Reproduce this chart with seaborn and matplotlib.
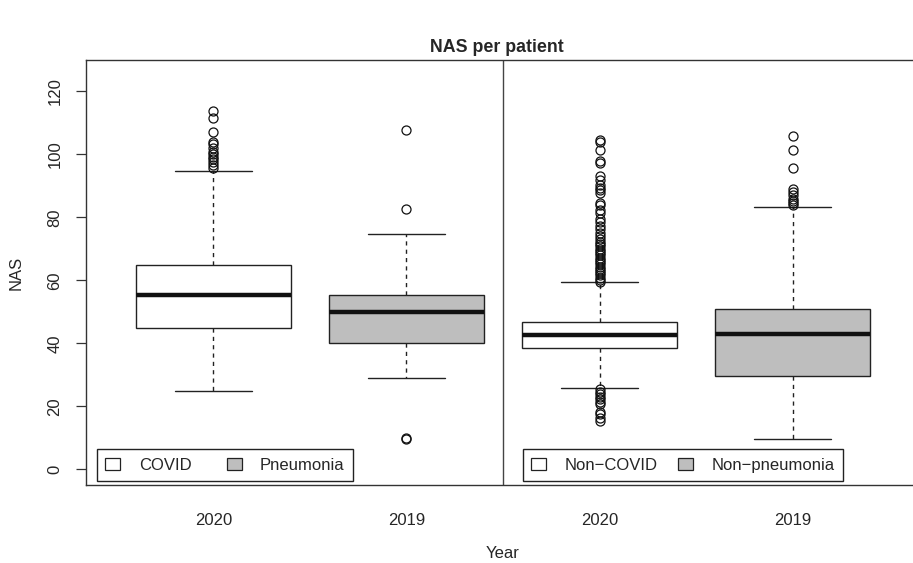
import matplotlib
matplotlib.use("Agg")
import matplotlib.pyplot as plt
import seaborn as sns
from matplotlib.patches import Patch

# ---- data ----
groups = ["COVID", "Pneumonia", "Non\u2212COVID", "Non\u2212pneumonia"]
year_labels = ["2020", "2019", "2020", "2019"]
q1 = [44.8, 40.2, 38.5, 29.5]
median = [55.2, 50.0, 42.6, 42.9]
q3 = [64.8, 55.5, 46.8, 50.9]
whisker_lo = [24.9, 29.1, 25.9, 9.6]
whisker_hi = [94.6, 74.8, 59.4, 83.2]
outliers_covid = [113.9, 111.6, 107.2, 103.8, 103.2, 102.0, 100.7, 100.0, 99.2,
                  98.4, 97.6, 96.5, 95.6]
outliers_pneumonia = [107.8, 82.6, 9.9, 9.6]
outliers_noncovid = [104.6, 103.8, 101.3, 98.0, 97.2, 93.3, 92.0, 90.3, 89.3, 88.6,
                     87.8, 84.7, 84.0, 82.5, 81.4, 79.6, 78.4, 77.3, 76.2, 75.1,
                     74.0, 73.0, 72.2, 71.5, 70.8, 70.0, 69.3, 68.6, 67.9, 67.2,
                     66.5, 65.8, 65.1, 64.4, 63.7, 63.0, 62.3, 61.6, 60.9, 60.2, 59.6,
                     25.4, 24.6, 23.8, 23.0, 22.2, 21.4, 20.6, 18.2, 17.4, 16.4, 15.4]
outliers_nonpneumonia = [106.0, 101.3, 95.7, 89.0, 88.0, 87.0, 86.0, 85.2, 84.5, 83.8]
fills = ["white", "#BEBEBE", "white", "#BEBEBE"]
yticks = [0, 20, 40, 60, 80, 100, 120]

sns.set_style("white")
plt.rcParams["font.family"] = ["Liberation Sans", "DejaVu Sans"]

fig = plt.figure(figsize=(9.13, 5.63), dpi=100)
ax = fig.add_axes([86 / 913, 78 / 563, 834 / 913, 425 / 563])

all_out = [outliers_covid, outliers_pneumonia, outliers_noncovid, outliers_nonpneumonia]
stats = []
for i in range(4):
    stats.append(dict(med=median[i], q1=q1[i], q3=q3[i], whislo=whisker_lo[i],
                      whishi=whisker_hi[i], fliers=all_out[i], label=year_labels[i]))

positions = [1, 2, 3, 4]
bp = ax.bxp(stats, positions=positions, widths=0.8, patch_artist=True,
            boxprops=dict(edgecolor="#222222", linewidth=1.0),
            medianprops=dict(color="#111111", linewidth=3.2, solid_capstyle="butt"),
            whiskerprops=dict(color="#222222", linewidth=1.0, linestyle=(0, (3, 3))),
            capprops=dict(color="#222222", linewidth=1.0),
            flierprops=dict(marker="o", markerfacecolor="none", markeredgecolor="#111111",
                            markersize=6.5, markeredgewidth=0.9))
for patch, fc in zip(bp["boxes"], fills):
    patch.set_facecolor(fc)

ax.axvline(2.5, color="#444444", linewidth=1.0)

ax.set_xlim(0.34, 4.66)
ax.set_ylim(-5, 130)
ax.set_yticks(yticks)
ax.set_yticklabels([str(v) for v in yticks], rotation=90, va="center")
ax.set_xticks(positions)
ax.set_xticklabels(year_labels)
ax.tick_params(axis="y", direction="out", length=7, width=0.9, color="#333333",
               pad=10, labelsize=12, left=True)
ax.tick_params(axis="x", length=0, pad=20, labelsize=12)
for s in ["left", "bottom", "top"]:
    ax.spines[s].set_color("#333333")
    ax.spines[s].set_linewidth(1.0)
ax.spines["right"].set_visible(False)

ax.set_ylabel("NAS", fontsize=12, labelpad=17)
ax.set_xlabel("Year", fontsize=12, labelpad=13)
fig.text(0.5445, 1 - 47 / 563, "NAS per patient", ha="center", va="center",
         fontsize=12.8, fontweight="bold")

def make_legend(labels, colors, x0, w):
    handles = [Patch(facecolor=c, edgecolor="#222222", linewidth=0.9) for c in colors]
    leg = ax.legend(handles, labels, ncol=2, loc="lower left",
                    bbox_to_anchor=(x0, 0.0094, w, 0.087), mode="expand",
                    borderaxespad=0, fancybox=False, framealpha=1, edgecolor="#222222",
                    fontsize=12, handlelength=0.9, handleheight=0.75,
                    handletextpad=1.1, borderpad=0.5)
    leg.get_frame().set_linewidth(1.0)
    return leg

leg1 = make_legend(groups[:2], fills[:2], 0.0132, 0.307)
ax.add_artist(leg1)
make_legend(groups[2:], fills[2:], 0.524, 0.384)

fig.savefig("out.png", dpi=100)
